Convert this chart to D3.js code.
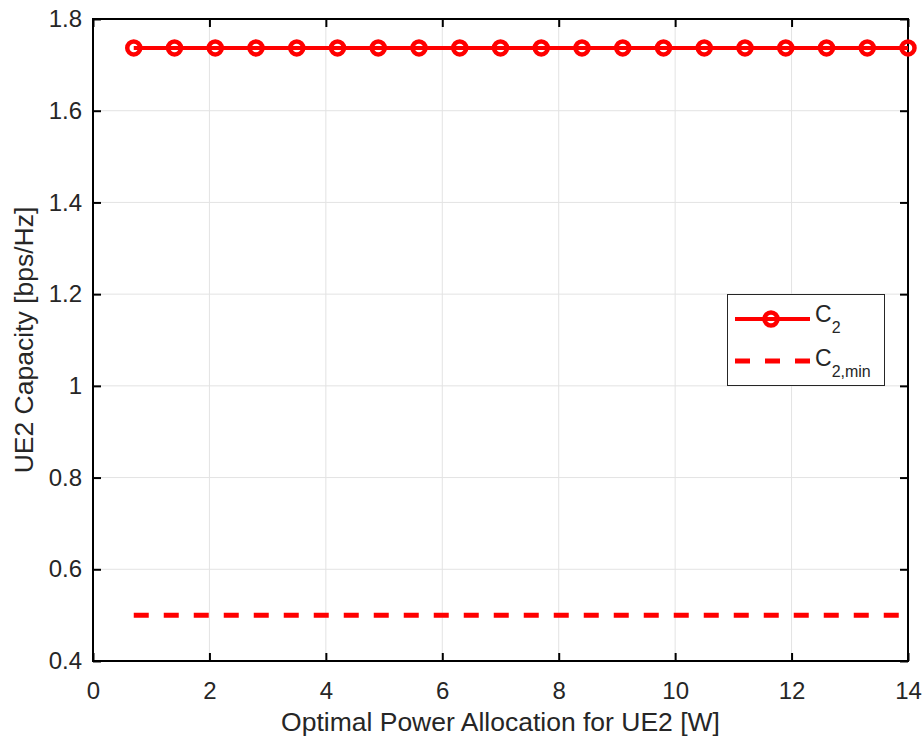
<!DOCTYPE html>
<html>
<head>
<meta charset="utf-8">
<script src="https://cdn.jsdelivr.net/npm/d3@7"></script>
<style>
  body { margin: 0; background: #fff; }
  text { font-family: "Liberation Sans", Arial, sans-serif; fill: #262626; }
</style>
</head>
<body>
<script>
'use strict';

// data
const power = [0.7, 1.4, 2.1, 2.8, 3.5, 4.2, 4.9, 5.6, 6.3, 7.0,
  7.7, 8.4, 9.1, 9.8, 10.5, 11.2, 11.9, 12.6, 13.3, 14.0];
const capacity = [1.737, 1.737, 1.737, 1.737, 1.737, 1.737, 1.737, 1.737, 1.737, 1.737,
  1.737, 1.737, 1.737, 1.737, 1.737, 1.737, 1.737, 1.737, 1.737, 1.737];
const capacityMin = [0.5, 0.5, 0.5, 0.5, 0.5, 0.5, 0.5, 0.5, 0.5, 0.5,
  0.5, 0.5, 0.5, 0.5, 0.5, 0.5, 0.5, 0.5, 0.5, 0.5];
const xTicks = [0, 2, 4, 6, 8, 10, 12, 14];
const yTicks = [0.4, 0.6, 0.8, 1, 1.2, 1.4, 1.6, 1.8];

const width = 922;
const height = 738;
const margin = {left: 93, right: 14, top: 19, bottom: 77};
const red = '#ff0000';

const xScale = d3.scaleLinear().domain([0, 14]).range([margin.left, width - margin.right]);
const yScale = d3.scaleLinear().domain([0.4, 1.8]).range([height - margin.bottom, margin.top]);

const svg = d3.select('body').append('svg')
  .attr('width', width)
  .attr('height', height);

const x0 = margin.left, x1 = width - margin.right;
const y0 = height - margin.bottom, y1 = margin.top;

// grid
const grid = svg.append('g').attr('stroke', '#e3e3e3').attr('stroke-width', 1);
grid.selectAll('.gx').data(xTicks).enter().append('line')
  .attr('x1', d => xScale(d)).attr('x2', d => xScale(d))
  .attr('y1', y0).attr('y2', y1);
grid.selectAll('.gy').data(yTicks).enter().append('line')
  .attr('x1', x0).attr('x2', x1)
  .attr('y1', d => yScale(d)).attr('y2', d => yScale(d));

// axes
const tickLen = 8;
const xAxisB = d3.axisBottom(xScale).tickValues(xTicks).tickSize(-tickLen).tickPadding(21).tickFormat(d3.format('d'));
const xAxisT = d3.axisTop(xScale).tickValues(xTicks).tickSize(-tickLen).tickFormat('');
const yAxisL = d3.axisLeft(yScale).tickValues(yTicks).tickSize(-tickLen).tickPadding(11).tickFormat(d => d3.format('')(d));
const yAxisR = d3.axisRight(yScale).tickValues(yTicks).tickSize(-tickLen).tickFormat('');

function styleAxis(g) {
  g.select('.domain').remove();
  g.selectAll('.tick line').attr('stroke', '#000').attr('stroke-width', 2);
  g.selectAll('.tick text').attr('font-size', 24).attr('fill', '#262626')
    .attr('font-family', '"Liberation Sans", Arial, sans-serif');
}

svg.append('g').attr('transform', `translate(0,${y0})`).call(xAxisB).call(styleAxis);
svg.append('g').attr('transform', `translate(0,${y1})`).call(xAxisT).call(styleAxis);
svg.append('g').attr('transform', `translate(${x0},0)`).call(yAxisL).call(styleAxis);
svg.append('g').attr('transform', `translate(${x1},0)`).call(yAxisR).call(styleAxis);

svg.append('rect')
  .attr('x', x0).attr('y', y1)
  .attr('width', x1 - x0).attr('height', y0 - y1)
  .attr('fill', 'none').attr('stroke', '#000').attr('stroke-width', 2);

// series
const line = d3.line().x(d => xScale(d[0])).y(d => yScale(d[1]));

const c2 = power.map((p, i) => [p, capacity[i]]);
const c2min = power.map((p, i) => [p, capacityMin[i]]);

svg.append('path').datum(c2min)
  .attr('d', line)
  .attr('fill', 'none').attr('stroke', red).attr('stroke-width', 5)
  .attr('stroke-dasharray', '15,15');

svg.append('path').datum(c2)
  .attr('d', line)
  .attr('fill', 'none').attr('stroke', red).attr('stroke-width', 4);

svg.append('g').selectAll('circle').data(c2).enter().append('circle')
  .attr('cx', d => xScale(d[0])).attr('cy', d => yScale(d[1]))
  .attr('r', 6.5).attr('fill', 'none').attr('stroke', red).attr('stroke-width', 4.5);

// axis labels
svg.append('text')
  .attr('x', (x0 + x1) / 2).attr('y', 731)
  .attr('text-anchor', 'middle').attr('font-size', 26.5)
  .text('Optimal Power Allocation for UE2 [W]');

svg.append('text')
  .attr('transform', `translate(33,${(y0 + y1) / 2}) rotate(-90)`)
  .attr('text-anchor', 'middle').attr('font-size', 26.5)
  .text('UE2 Capacity [bps/Hz]');

// legend
const legend = svg.append('g');
legend.append('rect')
  .attr('x', 727.5).attr('y', 294.5).attr('width', 157).attr('height', 91)
  .attr('fill', '#fff').attr('stroke', '#262626').attr('stroke-width', 1);

legend.append('line')
  .attr('x1', 735).attr('x2', 810).attr('y1', 319).attr('y2', 319)
  .attr('stroke', red).attr('stroke-width', 4);
legend.append('circle')
  .attr('cx', 771).attr('cy', 319).attr('r', 6.5)
  .attr('fill', 'none').attr('stroke', red).attr('stroke-width', 4.5);
legend.append('line')
  .attr('x1', 735).attr('x2', 810).attr('y1', 361).attr('y2', 361)
  .attr('stroke', red).attr('stroke-width', 5).attr('stroke-dasharray', '15,15');

const t1 = legend.append('text').attr('x', 815).attr('y', 322).attr('font-size', 23);
t1.append('tspan').text('C');
t1.append('tspan').attr('dy', 11).attr('font-size', 16).text('2');

const t2 = legend.append('text').attr('x', 815).attr('y', 366).attr('font-size', 23);
t2.append('tspan').text('C');
t2.append('tspan').attr('dy', 11).attr('font-size', 16).text('2,min');
</script>
</body>
</html>
